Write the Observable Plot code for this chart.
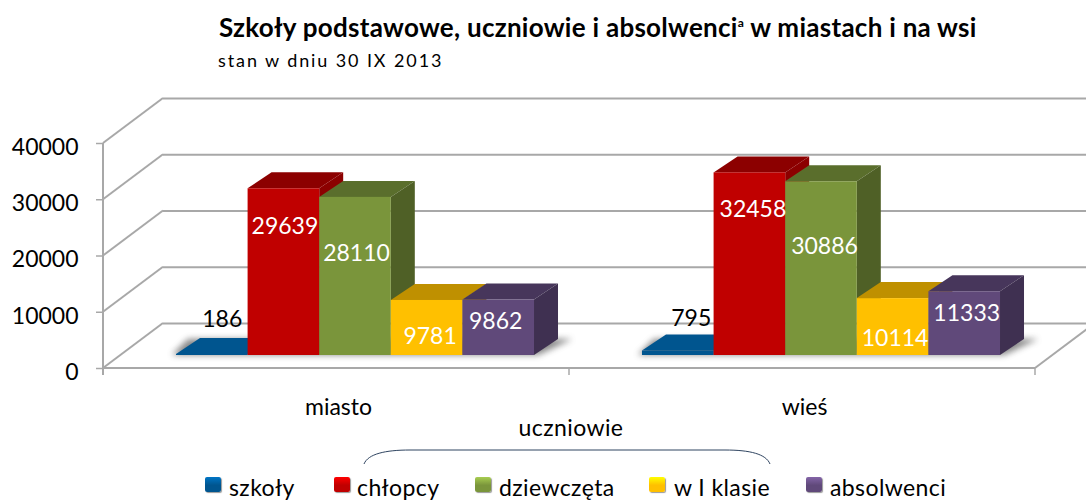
<!DOCTYPE html>
<html lang="pl">
<head>
<meta charset="utf-8">
<script src="https://cdn.jsdelivr.net/npm/d3@7"></script>
<script src="https://cdn.jsdelivr.net/npm/@observablehq/plot@0.6"></script>
<style>
  html, body { margin: 0; padding: 0; background: #fff; }
  #wrap { position: relative; width: 1086px; height: 501px; overflow: hidden; font-family: Lato, sans-serif; color: #000; }
  #head { height: 85px; position: relative; }
  #title { position: absolute; left: 219px; top: 11px; font-size: 26px; font-weight: 700; white-space: nowrap; letter-spacing: 0.27px; }
  #title sup { font-size: 12px; line-height: 0; vertical-align: 10px; }
  #sub { position: absolute; left: 218px; top: 49px; font-size: 18px; white-space: nowrap; letter-spacing: 1.9px; }
  #chart svg { display: block; }
  .abs { position: absolute; white-space: nowrap; }
  .swatch { position: absolute; width: 16px; height: 15px; border-radius: 2px; }
  .leg { position: absolute; font-size: 23px; white-space: nowrap; letter-spacing: 0.4px; top: 473px; }
</style>
</head>
<body>
<div id="wrap">
  <div id="head">
    <div id="title">Szkoły podstawowe, uczniowie i absolwenci<sup>a</sup> w miastach i na wsi</div>
    <div id="sub">stan w dniu 30 IX 2013</div>
  </div>
  <div id="chart"></div>
  <div class="abs" style="left:571px;top:413px;transform:translateX(-50%);font-size:23px;letter-spacing:.4px">uczniowie</div>
  <svg class="abs" style="left:0;top:0" width="1086" height="501"><path d="M364 464C368 454 385 450 410 450H725C750 450 766 454 770 464" fill="none" stroke="#2f4460" stroke-width="1"/></svg>
  <div id="legend"></div>
</div>
<script>
const places = ["miasto", "wieś"];
const series = ["szkoły", "chłopcy", "dziewczęta", "w I klasie", "absolwenci"];
const miastoValues = [186, 29639, 28110, 9781, 9862];
const wiesValues = [795, 32458, 30886, 10114, 11333];
const yTicks = [0, 10000, 20000, 30000, 40000];

const frontColors = ["#00558f", "#c00000", "#7a953b", "#ffc000", "#60497a"];
const topColors = ["#00558f", "#8c0000", "#5a6e2c", "#bf9000", "#47365b"];
const sideColors = ["#004a7c", "#8c0000", "#4f6026", "#a67d00", "#3f3051"];

// Layout constants
const wall = {dx: 60, dy: -45};
const depth = {dx: 24, dy: -16};
const bar = {dx: 19, dy: -13};
const gridColor = "#a8a8a8";
const labelShift = {
  "miasto|szkoły": [10, -35], "miasto|chłopcy": [1, 38], "miasto|dziewczęta": [1, 56],
  "miasto|w I klasie": [3, 36], "miasto|absolwenci": [-3, 22],
  "wieś|szkoły": [13, -32], "wieś|chłopcy": [3, 37], "wieś|dziewczęta": [3, 65],
  "wieś|w I klasie": [2, 40], "wieś|absolwenci": [2, 22]
};

const rows = places.flatMap((place, p) => {
  const vals = p === 0 ? miastoValues : wiesValues;
  return series.map((s, i) => ({place, series: s, value: vals[i]}));
});

const svgNS = "http://www.w3.org/2000/svg";
function el(doc, name, attrs) {
  const e = doc.createElementNS(svgNS, name);
  for (const k in attrs) e.setAttribute(k, attrs[k]);
  return e;
}

// Front floor line, x ticks and the side walls' edges, one facet at a time.
function wallLines(index, scales, values, dim, ctx) {
  const g = el(ctx.document, "g", {});
  const x0 = dim.marginLeft, x1 = dim.width - dim.marginRight;
  const y0 = scales.y(0), yT = scales.y(40000);
  const add = (xa, ya, xb, yb, w = 2) => g.appendChild(el(ctx.document, "line", {
    x1: xa, y1: ya, x2: xb, y2: yb, stroke: gridColor, "stroke-width": w
  }));
  if (index.fx === places[0]) {
    for (const t of yTicks) add(x0, scales.y(t), x0 + wall.dx, scales.y(t) + wall.dy);
    add(x0, yT, x0, y0 + 7);
  } else {
    add(x1, y0, x1 + wall.dx, y0 + wall.dy);
  }
  add(x0, y0, x1, y0);
  add(x1, y0, x1, y0 + 7, 1.5);
  return g;
}

// Turns every flat bar from the library into a box with a top and a side face.
function boxes(index, scales, values, dim, ctx, next) {
  const g = next(index, scales, values, dim, ctx);
  const doc = ctx.document;
  const rects = Array.from(g.querySelectorAll("rect"));
  const xs = rects.map(r => +r.getAttribute("x"));
  const ws = rects.map(r => +r.getAttribute("width"));
  const base = rects.map(r => +r.getAttribute("y") + +r.getAttribute("height"));
  const left = d3.min(xs), right = d3.max(xs.map((x, i) => x + ws[i])), b = base[0];
  const parent = rects[0].parentNode;
  const shadow = el(doc, "polygon", {
    points: `${left - 4},${b} ${left + depth.dx - 12},${b + depth.dy} ${right + depth.dx + 14},${b + depth.dy} ${right + 4},${b}`,
    fill: "#555", opacity: 0.7
  });
  shadow.style.filter = "blur(3px)";
  parent.insertBefore(shadow, rects[0]);
  rects.forEach((r, i) => {
    const x = xs[i], w = ws[i], y = +r.getAttribute("y"), h = +r.getAttribute("height");
    const k = frontColors.indexOf(r.getAttribute("fill"));
    const top = el(doc, "polygon", {
      points: `${x},${y} ${x + depth.dx},${y + depth.dy} ${x + w + depth.dx},${y + depth.dy} ${x + w},${y}`,
      fill: topColors[k]
    });
    const side = el(doc, "polygon", {
      points: `${x + w},${y} ${x + w + depth.dx},${y + depth.dy} ${x + w + depth.dx},${y + h + depth.dy} ${x + w},${y + h}`,
      fill: sideColors[k]
    });
    parent.insertBefore(top, r);
    parent.insertBefore(side, r);
  });
  return g;
}

const plot = Plot.plot({
  width: 1086,
  height: 345,
  marginLeft: 103,
  marginRight: 51,
  marginTop: 58,
  marginBottom: 62,
  style: {fontFamily: "Lato, sans-serif", background: "transparent", overflow: "hidden"},
  fx: {domain: places, padding: 0, label: null, round: false},
  x: {domain: series, paddingInner: 0, paddingOuter: 0.754, round: false, axis: null, label: null},
  y: {domain: [0, 40000], label: null},
  color: {domain: series, range: frontColors},
  marks: [
    Plot.ruleY(yTicks, {stroke: gridColor, strokeWidth: 2, dx: wall.dx, dy: wall.dy}),
    Plot.ruleY([0], {strokeOpacity: 0, render: wallLines}),
    Plot.axisY({ticks: yTicks, tickSize: 7, tickPadding: 0, tickFormat: () => "", stroke: gridColor, strokeWidth: 1.5, label: null}),
    Plot.axisY({ticks: yTicks, tickSize: 0, tickPadding: 25, tickFormat: d => String(d), fontSize: 23, fill: "#000", dy: 4, label: null}),
    Plot.axisFx({anchor: "bottom", tickSize: 0, tickPadding: 30, fontSize: 23, fill: "#000", label: null, dx: 2}),
    Plot.barY(rows, {fx: "place", x: "series", y: "value", fill: "series", dx: bar.dx, dy: bar.dy, render: boxes}),
    ...rows.map(r => {
      const [sx, sy] = labelShift[r.place + "|" + r.series];
      return Plot.text([r], {
        fx: "place", x: "series", y: "value", text: d => String(d.value),
        fontSize: 23, fill: r.series === "szkoły" ? "#000" : "#fff",
        dx: bar.dx + sx, dy: bar.dy + sy
      });
    })
  ]
});
document.getElementById("chart").appendChild(plot);

const legendPos = [[205, 229], [334, 357], [475, 499], [649, 674], [806, 830]];
const legend = document.getElementById("legend");
series.forEach((s, i) => {
  const sw = document.createElement("div");
  sw.className = "swatch";
  sw.style.cssText = `left:${legendPos[i][0]}px;top:477px;background:linear-gradient(180deg, ${d3.color(frontColors[i]).brighter(0.9)}, ${frontColors[i]} 55%);box-shadow:1px 1px 1px #999`;
  legend.appendChild(sw);
  const t = document.createElement("div");
  t.className = "leg";
  t.style.left = legendPos[i][1] + "px";
  t.textContent = s;
  legend.appendChild(t);
});
</script>
</body>
</html>
